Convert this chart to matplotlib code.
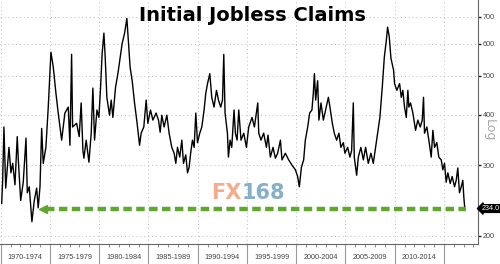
import matplotlib.pyplot as plt
import matplotlib.ticker as ticker
import matplotlib.transforms as transforms

# weekly initial claims (thousands)
years = [1970.10, 1970.20, 1970.33, 1970.51, 1970.84, 1971.04, 1971.22, 1971.45, 1971.68, 1971.79,
         1972.03, 1972.29, 1972.57, 1972.70, 1972.90, 1973.17, 1973.41, 1973.65, 1973.81, 1973.99,
         1974.16, 1974.32, 1974.59, 1974.83, 1975.10, 1975.34, 1975.61, 1975.84, 1976.19, 1976.52,
         1976.86, 1977.03, 1977.20, 1977.30, 1977.71, 1977.97, 1978.17, 1978.35, 1978.45, 1978.68,
         1978.96, 1979.19, 1979.36, 1979.53, 1979.77, 1979.97, 1980.14, 1980.30, 1980.48, 1980.61,
         1980.78, 1981.05, 1981.22, 1981.39, 1981.66, 1981.90, 1982.13, 1982.33, 1982.58, 1982.81,
         1982.98, 1983.14, 1983.35, 1983.59, 1983.85, 1984.10, 1984.26, 1984.53, 1984.77, 1984.94,
         1985.21, 1985.45, 1985.78, 1986.02, 1986.19, 1986.36, 1986.59, 1986.87, 1987.10, 1987.37,
         1987.61, 1987.78, 1987.95, 1988.18, 1988.39, 1988.56, 1988.79, 1988.97, 1989.13, 1989.30,
         1989.47, 1989.64, 1989.81, 1989.98, 1990.21, 1990.42, 1990.65, 1990.82, 1991.00, 1991.23,
         1991.43, 1991.66, 1991.91, 1992.11, 1992.34, 1992.52, 1992.65, 1992.78, 1993.02, 1993.12,
         1993.29, 1993.46, 1993.69, 1993.83, 1994.00, 1994.17, 1994.40, 1994.68, 1994.95, 1995.18,
         1995.42, 1995.52, 1995.76, 1995.96, 1996.10, 1996.20, 1996.43, 1996.70, 1996.98, 1997.14,
         1997.38, 1997.65, 1997.89, 1998.12, 1998.40, 1998.56, 1998.90, 1999.24, 1999.57, 1999.92,
         2000.15, 2000.32, 2000.53, 2000.76, 2000.93, 2001.17, 2001.37, 2001.60, 2001.74, 2001.85,
         2001.98, 2002.18, 2002.31, 2002.52, 2002.76, 2002.99, 2003.27, 2003.43, 2003.67, 2003.87,
         2004.11, 2004.34, 2004.54, 2004.79, 2004.95, 2005.22, 2005.46, 2005.63, 2005.80, 2005.90,
         2006.14, 2006.31, 2006.57, 2006.82, 2007.05, 2007.32, 2007.59, 2007.83, 2008.06, 2008.27,
         2008.50, 2008.74, 2008.95, 2009.15, 2009.28, 2009.45, 2009.62, 2009.89, 2009.99, 2010.22,
         2010.50, 2010.67, 2010.83, 2011.00, 2011.18, 2011.34, 2011.44, 2011.61, 2011.85, 2012.12,
         2012.35, 2012.60, 2012.80, 2012.93, 2013.03, 2013.27, 2013.47, 2013.71, 2013.88, 2014.05,
         2014.28, 2014.48, 2014.73, 2014.89, 2015.06, 2015.23, 2015.40, 2015.64, 2015.84, 2016.08,
         2016.25, 2016.41, 2016.58, 2016.76, 2016.92, 2017.02, 2017.12]
claims = [241, 275, 373, 263, 332, 287, 303, 268, 353, 309,
          245, 272, 350, 256, 265, 217, 245, 263, 235, 265,
          370, 303, 332, 418, 572, 525, 452, 404, 346, 404,
          418, 336, 565, 373, 381, 353, 428, 326, 312, 346,
          305, 360, 466, 346, 411, 394, 468, 568, 638, 556,
          442, 399, 435, 394, 468, 506, 556, 601, 638, 694,
          601, 525, 486, 428, 381, 336, 360, 373, 435, 381,
          411, 388, 404, 388, 362, 399, 373, 399, 360, 332,
          321, 303, 332, 314, 346, 303, 318, 287, 296, 323,
          346, 332, 404, 341, 360, 373, 411, 452, 478, 506,
          442, 418, 460, 435, 418, 435, 565, 404, 360, 314,
          346, 332, 411, 360, 346, 411, 346, 360, 332, 373,
          388, 394, 373, 404, 428, 360, 346, 360, 332, 356,
          314, 332, 312, 321, 346, 309, 321, 309, 300, 292,
          281, 265, 296, 309, 346, 373, 404, 411, 452, 506,
          435, 486, 388, 428, 388, 411, 442, 418, 381, 360,
          346, 360, 332, 341, 321, 332, 314, 326, 428, 314,
          283, 314, 332, 309, 332, 303, 321, 303, 332, 360,
          394, 468, 556, 611, 660, 625, 553, 516, 478, 460,
          478, 442, 460, 418, 394, 460, 418, 428, 404, 366,
          388, 373, 388, 442, 360, 373, 346, 314, 366, 332,
          341, 314, 309, 292, 303, 272, 287, 270, 281, 265,
          275, 295, 256, 265, 275, 250, 234]

y_ticks = [200, 300, 400, 500, 600, 700]
period_starts = [1970, 1975, 1980, 1985, 1990, 1995, 2000, 2005, 2010]
period_labels = ['1970-1974', '1975-1979', '1980-1984', '1985-1989', '1990-1994',
                 '1995-1999', '2000-2004', '2005-2009', '2010-2014']
last_value = 234.0
arrow_tip = 1973.92
arrow_end = 2017.29

green = '#5fa82e'
small = dict(family='Liberation Sans', fontsize=5.2)

fig = plt.figure(figsize=(5, 2.64), dpi=100)
ax = fig.add_axes([0, 0.077, 0.955, 0.923])

ax.plot(years, claims, color='black', lw=1.0, zorder=3)

ax.set_yscale('log')
ax.set_ylim(191.4, 771)
ax.set_xlim(1969.93, 2018.41)

ax.yaxis.tick_right()
ax.yaxis.set_major_locator(ticker.FixedLocator(y_ticks))
ax.yaxis.set_minor_locator(ticker.NullLocator())
ax.yaxis.set_major_formatter(ticker.FixedFormatter([str(v) for v in y_ticks]))
ax.tick_params(axis='y', direction='out', length=2.5, width=1, color='#222', pad=1.5,
               labelcolor='#444', labelsize=5.2)
for lab in ax.get_yticklabels():
    lab.set_family('Liberation Sans')

ax.set_xticks(range(1970, 2016, 5))
ax.set_xticks(range(1970, 2019), minor=True)
ax.tick_params(axis='x', which='major', direction='out', length=15, width=0.8,
               color='#999', labelbottom=False)
ax.tick_params(axis='x', which='minor', direction='out', length=2.2, width=0.6, color='#777')

ax.grid(True, which='major', ls=(0, (1, 3)), color='#bbbbbb', lw=0.7, zorder=1)
for s in ['left', 'top']:
    ax.spines[s].set_visible(False)
for s in ['right', 'bottom']:
    ax.spines[s].set_color('#666')
    ax.spines[s].set_linewidth(0.8)

trans = transforms.blended_transform_factory(ax.transData, ax.transAxes)
for start, lab in zip(period_starts, period_labels):
    ax.text(start + 2.5, -0.058, lab, transform=trans, ha='center', va='center',
            color='#444', **small)

# green dashed arrow at the latest value
ax.plot([arrow_tip + 0.7, arrow_end], [last_value, last_value], color=green, lw=3.2,
        ls=(0, (1.9, 1.0)), dash_capstyle='butt', zorder=4)
ax.plot(arrow_tip + 0.38, last_value, marker='<', ms=5.6, color=green, zorder=4)

trans2 = transforms.blended_transform_factory(ax.transAxes, ax.transData)
ax.text(1.008, last_value, '%.1f' % last_value, transform=trans2, ha='left', va='center',
        color='white', bbox=dict(boxstyle='larrow,pad=0.05', fc='black', ec='black'),
        clip_on=False, **small)

fig.text(0.504, 0.943, 'Initial Jobless Claims', ha='center', va='center',
         fontsize=14, fontweight='bold', family='DejaVu Sans')
fig.text(0.978, 0.508, 'Log', rotation=-90, ha='center', va='center',
         fontsize=9, color='#aaaaaa')

# watermark
fig.text(0.483, 0.268, 'FX', ha='right', va='center', fontsize=15, fontweight='bold',
         color='#f5ac8c')
fig.text(0.483, 0.268, '168', ha='left', va='center', fontsize=15, fontweight='bold',
         color='#86afc9')

fig.savefig('out.png', dpi=100)
